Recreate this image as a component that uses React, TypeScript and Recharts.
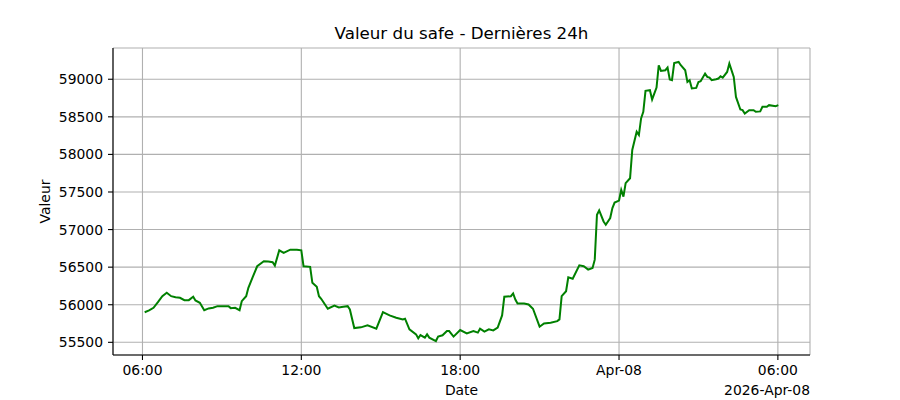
import React from 'react';
import { LineChart, Line, XAxis, YAxis, CartesianGrid, Label } from 'recharts';

// minutes since 06:00 (Apr-07)
const minutes = [
  5, 15, 25, 35, 45, 55, 65, 75, 85, 95,
  105, 115, 120, 130, 140, 150, 160, 170, 180, 195,
  200, 210, 220, 225, 235, 240, 250, 260, 275, 285,
  295, 300, 310, 320, 335, 350, 360, 365, 380, 385,
  395, 400, 405, 420, 435, 445, 455, 465, 470, 480,
  495, 510, 530, 545, 560, 575, 590, 595, 605, 620,
  625, 630, 640, 645, 650, 665, 670, 680, 690, 695,
  705, 720, 735, 750, 760, 765, 775, 785, 795, 805,
  815, 820, 835, 840, 845, 850, 865, 875, 885, 900,
  910, 925, 940, 945, 950, 960, 965, 975, 990, 1000,
  1010, 1020, 1025, 1030, 1035, 1045, 1050, 1060, 1065, 1070,
  1080, 1085, 1090, 1095, 1105, 1110, 1120, 1125, 1130, 1135,
  1140, 1150, 1155, 1165, 1170, 1175, 1185, 1190, 1195, 1200,
  1205, 1215, 1220, 1230, 1235, 1240, 1245, 1255, 1260, 1265,
  1275, 1280, 1285, 1290, 1300, 1305, 1310, 1315, 1325, 1330,
  1340, 1345, 1355, 1360, 1365, 1375, 1385, 1390, 1400, 1405,
  1415, 1420, 1435, 1441,
];

const values = [
  55900, 55924, 55960, 56034, 56114, 56159, 56114, 56100, 56093, 56061,
  56061, 56106, 56057, 56026, 55928, 55951, 55960, 55981, 55981, 55981,
  55955, 55960, 55928, 56047, 56114, 56225, 56371, 56512, 56578, 56574,
  56565, 56521, 56724, 56689, 56733, 56733, 56724, 56512, 56504, 56291,
  56238, 56114, 56079, 55947, 55990, 55964, 55973, 55981, 55938, 55690,
  55699, 55725, 55682, 55902, 55858, 55828, 55805, 55814, 55672, 55606,
  55553, 55597, 55562, 55606, 55562, 55517, 55576, 55593, 55650, 55650,
  55576, 55663, 55619, 55650, 55629, 55682, 55642, 55672, 55659, 55695,
  55858, 56106, 56114, 56150, 56070, 56017, 56017, 56004, 55947, 55708,
  55752, 55761, 55782, 55805, 56114, 56180, 56366, 56345, 56525, 56512,
  56468, 56490, 56600, 57197, 57254, 57108, 57064, 57153, 57286, 57360,
  57386, 57528, 57439, 57617, 57683, 58059, 58301, 58257, 58479, 58567,
  58846, 58854, 58731, 58890, 59186, 59110, 59120, 59155, 58996, 58987,
  59216, 59230, 59186, 59120, 58964, 58987, 58877, 58885, 58964, 58973,
  59075, 59031, 59022, 58987, 59000, 59009, 59040, 59022, 59097, 59208,
  59031, 58765, 58598, 58589, 58545, 58589, 58589, 58567, 58572, 58633,
  58633, 58655, 58642, 58655,
];

const xTicks = [0, 360, 720, 1080, 1440];
const xTickLabels = ['06:00', '12:00', '18:00', 'Apr-08', '06:00'];
const yTicks = [55500, 56000, 56500, 57000, 57500, 58000, 58500, 59000];

const data = minutes.map((t, i) => ({ t, value: values[i] }));

// matplotlib-like 5% margins
const tMin = Math.min(...minutes);
const tMax = Math.max(...minutes);
const vMin = Math.min(...values);
const vMax = Math.max(...values);
const xPad = (tMax - tMin) * 0.05;
const yPad = (vMax - vMin) * 0.05;
const xDomain = [tMin - xPad, tMax + xPad];
const yDomain = [vMin - yPad, vMax + yPad];

const FONT = '"DejaVu Sans", sans-serif';
const tickStyle = { fill: '#000', fontSize: 13.9, fontFamily: FONT };
const spine = { stroke: '#000', strokeWidth: 1.1 };

const XLabels = (props: any) => {
  const { x, y, width, height } = props.viewBox;
  return (
    <g fontFamily={FONT} fontSize={13.9} fill="#000">
      <text x={x + width / 2} y={y + height - 5} textAnchor="middle">Date</text>
      <text x={x + width} y={y + height - 5} textAnchor="end">2026-Apr-08</text>
    </g>
  );
};

const YLabel = (props: any) => {
  const { x, y, height } = props.viewBox;
  const cx = x + 50;
  const cy = y + height / 2;
  return (
    <text
      x={cx}
      y={cy}
      transform={`rotate(-90 ${cx} ${cy})`}
      textAnchor="middle"
      fontFamily={FONT}
      fontSize={13.9}
      fill="#000"
    >
      Valeur
    </text>
  );
};

export default function App() {
  return (
    <div style={{ position: 'absolute', left: 0, top: 0, width: 900, height: 400, background: '#fff', fontFamily: FONT }}>
      <div
        style={{
          position: 'absolute',
          left: 113,
          width: 697,
          top: 23,
          textAlign: 'center',
          fontSize: 16.7,
          lineHeight: '20px',
          color: '#000',
        }}
      >
        Valeur du safe - Dernières 24h
      </div>
      <LineChart width={900} height={400} data={data} margin={{ top: 48, right: 90, bottom: 0, left: 0 }}>
        <CartesianGrid stroke="#b0b0b0" strokeWidth={1.1} />
        <XAxis
          dataKey="t"
          type="number"
          domain={xDomain}
          ticks={xTicks}
          interval={0}
          tickFormatter={(v: number) => xTickLabels[xTicks.indexOf(v)]}
          height={45}
          tickSize={5}
          tickMargin={5}
          axisLine={spine}
          tickLine={spine}
          tick={tickStyle}
          allowDataOverflow
        >
          <Label content={XLabels} />
        </XAxis>
        <XAxis
          xAxisId="top"
          orientation="top"
          dataKey="t"
          type="number"
          domain={xDomain}
          height={0}
          tick={false}
          tickLine={false}
          axisLine={spine}
          allowDataOverflow
        />
        <YAxis
          type="number"
          domain={yDomain}
          ticks={yTicks}
          interval={0}
          width={113}
          tickSize={5}
          tickMargin={5}
          axisLine={spine}
          tickLine={spine}
          tick={tickStyle}
          allowDataOverflow
        >
          <Label content={YLabel} />
        </YAxis>
        <YAxis
          yAxisId="right"
          orientation="right"
          type="number"
          domain={yDomain}
          width={0}
          tick={false}
          tickLine={false}
          axisLine={spine}
          allowDataOverflow
        />
        <Line
          type="linear"
          dataKey="value"
          stroke="#008000"
          strokeWidth={2}
          dot={false}
          activeDot={false}
          isAnimationActive={false}
        />
      </LineChart>
    </div>
  );
}
